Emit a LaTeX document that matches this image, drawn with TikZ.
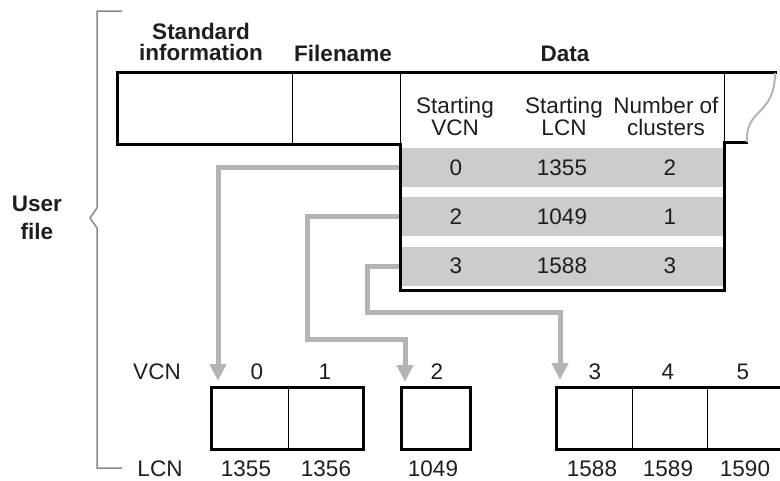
\documentclass[tikz,border=0pt]{standalone}
\usepackage{fontspec}
\setmainfont{Liberation Sans}
\usetikzlibrary{positioning, arrows.meta, calc}
\definecolor{rowgray}{HTML}{CCCCCC}
\definecolor{flowgray}{HTML}{B4B4B4}
\definecolor{bracegray}{HTML}{8A8A8A}
\definecolor{inkblack}{HTML}{1E1E1E}

\begin{document}
\begin{tikzpicture}[x=1pt, y=-1pt, font=\fontsize{22.5}{22}\selectfont, text=inkblack, every node/.style={inner sep=0.5pt}]
\tikzset{
    thickline/.style={draw=black, line width=3pt},
    thinline/.style={draw=black, line width=1pt},
    rowbar/.style={fill=rowgray, minimum width=321pt, minimum height=39pt, inner sep=0pt},
    cell/.style={draw=black, line width=1pt, minimum width=#1, minimum height=61pt, inner sep=0pt},
    heading/.style={font=\fontsize{22.5}{21}\selectfont\bfseries, align=center, inner sep=0pt},
    colhead/.style={align=center, inner sep=0pt},
    flow/.style={draw=flowgray, line width=5pt, -{Triangle[length=17pt, width=16pt]}}
}
\useasboundingbox (0,0) rectangle (780,480);
% extent table rows
\node[rowbar] (r1) at (562,167.5) {};
\node[rowbar] (r2) at (562,216.5) {};
\node[rowbar] (r3) at (562,266) {};
% clusters on disk
\node[cell=76pt] (c0) at (250,418.5) {}; \node[cell=75pt] (c1) at (325.5,418.5) {};
\node[cell=68pt] (c2) at (436,418.5) {};
\node[cell=75pt] (c3) at (594.5,418.5) {}; \node[cell=75pt] (c4) at (669.5,418.5) {}; \node[cell=76pt] (c5) at (745,418.5) {};
\draw[thickline] (c0.north west) rectangle (c1.south east);
\draw[thickline] (c2.north west) rectangle (c2.south east);
\draw[thickline] (c3.north west) rectangle (c5.south east);
% run pointers
\coordinate (t0) at (218,381); \coordinate (t2) at (405,382); \coordinate (t3) at (560,380);
\draw[flow] (r1.west) -| (t0);
\draw[flow] (r2.west) -| (307,339) -| (t2);
\draw[flow] (r3.west) -| (367,312) -| (t3);
% MFT record
\draw[thickline] (777,72) -- (117,72) -- (117,144) -- (400,144) -- (400,290) -- (724,290) -- (724,142) -- (748,142);
\draw[thinline] (292,72) -- (292,144); \draw[thinline] (400,72) -- (400,144); \draw[thinline] (724,72) -- (724,142);
\draw[draw=flowgray, line width=2pt] (747,142) .. controls (745,108) and (775,116) .. (775,73);
\node[heading] (std) at (201,42) {Standard\\information};
\node[heading] (fname) at (343,53) {Filename};
\node[heading] (data) at (565,54) {Data};
\node[colhead] (h1) at (455,116) {Starting\\VCN};
\node[colhead] (h2) at (564,116) {Starting\\LCN};
\node[colhead] (h3) at (666,116) {Number of\\clusters};
\node at (456,168) {0}; \node at (562,168) {1355}; \node at (670,168) {2};
\node at (456,217) {2}; \node at (562,217) {1049}; \node at (670,217) {1};
\node at (456,266) {3}; \node at (562,266) {1588}; \node at (670,266) {3};
% VCN and LCN numbering
\node (vcn) at (157,372) {VCN}; \node (lcn) at (160,469) {LCN};
\node (v0) at (257,372) {0}; \node (v1) at (325,372) {1}; \node (v2) at (437,372) {2};
\node (v3) at (595,372) {3}; \node (v4) at (668,372) {4}; \node (v5) at (743,372) {5};
\node (l0) at (246,469) {1355}; \node (l1) at (326,469) {1356}; \node (l2) at (433,469) {1049};
\node (l3) at (592,469) {1588}; \node (l4) at (668,469) {1589}; \node (l5) at (745,469) {1590};
% user file brace
\draw[draw=bracegray, line width=1.5pt] (122,11) -- (97,11) -- (97,208) -- (90,218) -- (97,228) -- (97,468) -- (122,468);
\node[heading] (ufile) at (37,218) {User\\[7pt]file};
\end{tikzpicture}
\end{document}
